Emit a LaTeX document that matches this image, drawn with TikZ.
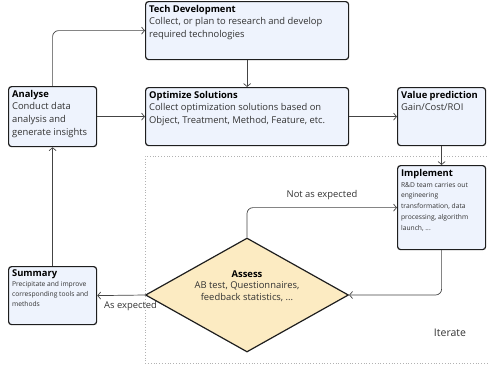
\documentclass[tikz,border=0pt]{standalone}
\usepackage{fontspec}
\setmainfont{Open Sans}
\usetikzlibrary{arrows.meta,shapes.geometric}

\definecolor{BoxFill}{HTML}{EEF3FD}
\definecolor{DecisionFill}{HTML}{FCEBC2}
\definecolor{BoxLine}{HTML}{1E1E1E}
\definecolor{ArrowLine}{HTML}{444444}
\definecolor{BodyText}{HTML}{333333}

\newcommand{\smallbody}[1][10]{\fontsize{6.7}{#1}\selectfont}
\newcommand{\stepcontent}[4]{%
  \begin{minipage}[t][#2][t]{#1}\raggedright\fontsize{9.4}{12.6}\selectfont
    \textbf{#3}\par\color{BodyText}#4\par
  \end{minipage}}

\tikzset{
  stepbox/.style={draw=BoxLine, fill=BoxFill, line width=1.2pt, rounded corners=3pt,
    inner sep=3.5pt, anchor=north west},
  flow/.style={draw=ArrowLine, line width=0.7pt, rounded corners=6pt,
    -{Straight Barb[length=3pt,width=7pt]}},
  flowlabel/.style={text=BodyText, font=\fontsize{9.4}{11}\selectfont},
}

\begin{document}
\begin{tikzpicture}[x=1pt,y=-1pt]
    \useasboundingbox (0,0) rectangle (489,370);

    % iteration area
    \draw[gray!60, dotted, line width=0.8pt] (495,156) -- (145,156) -- (145,363) -- (495,363);
    \node[flowlabel, font=\fontsize{10.5}{13}\selectfont] (iterate) at (450,333) {Iterate};

    % steps
    \node[stepbox] (tech) at (145,1)
      {\stepcontent{196pt}{51pt}{Tech Development}{Collect, or plan to research and develop required technologies}};
    \node[stepbox] (optim) at (145,87)
      {\stepcontent{196pt}{51pt}{Optimize Solutions}{Collect optimization solutions based on Object, Treatment, Method, Feature, etc.}};
    \node[stepbox] (analyse) at (8,86)
      {\stepcontent{81pt}{53pt}{Analyse}{Conduct data analysis and generate insights}};
    \node[stepbox] (value) at (397,87)
      {\stepcontent{81pt}{51pt}{Value prediction}{Gain/Cost/ROI}};
    \node[stepbox] (impl) at (397,165)
      {\stepcontent{81pt}{77pt}{Implement}{\smallbody[10.8] R\&D team carries out engineering transformation, data processing, algorithm launch, ...\par}};
    \node[stepbox] (summary) at (8,266)
      {\stepcontent{81pt}{51pt}{Summary}{\smallbody[9.8] Precipitate and improve corresponding tools and methods\par}};

    % decision
    \node[diamond, draw=BoxLine, fill=DecisionFill, line width=1.2pt, inner sep=0pt,
      aspect=1.78, minimum width=203pt, minimum height=114pt] (assess) at (247,295) {};
    \node[align=center, font=\fontsize{9.4}{11.5}\selectfont] (assesstext) at ([yshift=9pt]assess.center)
      {\textbf{Assess}\\\color{BodyText}AB test, Questionnaires,\\\color{BodyText}feedback statistics, ...};

    % connectors
    \draw[flow] (analyse.north) |- (tech.west);
    \draw[flow] (tech.south) -- (optim.north);
    \draw[flow] (analyse.east) -- (optim.west);
    \draw[flow] (optim.east) -- (value.west);
    \draw[flow] (value.south) -- (impl.north);
    \draw[flow] (impl.south) |- (assess.east);
    \draw[flow] (assess.north) |- node[flowlabel, above, pos=0.75, yshift=4pt] {Not as expected} (impl.west);
    \draw[flow] (assess.west) -- node[flowlabel, below, pos=0.3, yshift=-2pt] {As expected} (summary.east);
    \draw[flow] (summary.north) -- (analyse.south);
\end{tikzpicture}
\end{document}
